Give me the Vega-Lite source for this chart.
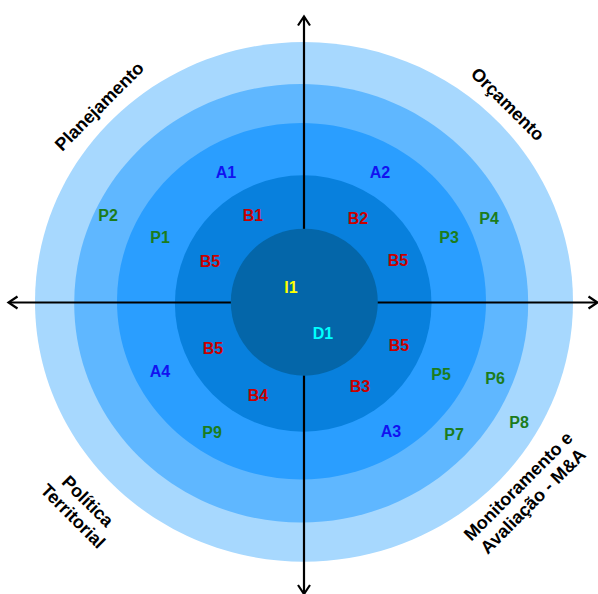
{
  "$schema": "https://vega.github.io/schema/vega-lite/v6.json",
  "width": 598,
  "height": 594,
  "autosize": {"type": "none"},
  "padding": 0,
  "background": "white",
  "config": {"view": {"stroke": null}},
  "datasets": {
    "rings": [
      {"ring": "1", "cx": 304, "cy": 301.8, "r": 269},
      {"ring": "2", "cx": 301.2, "cy": 303.3, "r": 227},
      {"ring": "3", "cx": 301.5, "cy": 301.2, "r": 184.5},
      {"ring": "4", "cx": 303.2, "cy": 303.5, "r": 128.3},
      {"ring": "5", "cx": 304.3, "cy": 302.2, "r": 73.5}
    ],
    "axes": [
      {"x": 9, "y": 302.5, "x2": 597, "y2": 302.5},
      {"x": 304, "y": 17, "x2": 304, "y2": 594}
    ],
    "tips": [
      {"dir": "up", "x": 304, "y": 16.5},
      {"dir": "down", "x": 304, "y": 594},
      {"dir": "left", "x": 8.5, "y": 302.5},
      {"dir": "right", "x": 597.5, "y": 302.5}
    ],
    "labels": [
      {"label": "A1", "group": "A", "x": 226, "y": 173},
      {"label": "A2", "group": "A", "x": 380, "y": 173},
      {"label": "A3", "group": "A", "x": 391, "y": 432},
      {"label": "A4", "group": "A", "x": 160, "y": 372},
      {"label": "B1", "group": "B", "x": 253, "y": 216},
      {"label": "B2", "group": "B", "x": 358, "y": 219},
      {"label": "B5", "group": "B", "x": 210, "y": 262},
      {"label": "B5", "group": "B", "x": 398, "y": 261},
      {"label": "B5", "group": "B", "x": 213, "y": 349},
      {"label": "B5", "group": "B", "x": 399, "y": 346},
      {"label": "B3", "group": "B", "x": 360, "y": 387},
      {"label": "B4", "group": "B", "x": 258, "y": 396},
      {"label": "I1", "group": "I", "x": 291, "y": 288},
      {"label": "D1", "group": "D", "x": 323, "y": 334},
      {"label": "P1", "group": "P", "x": 160, "y": 238},
      {"label": "P2", "group": "P", "x": 108, "y": 216},
      {"label": "P3", "group": "P", "x": 449, "y": 238},
      {"label": "P4", "group": "P", "x": 489, "y": 219},
      {"label": "P5", "group": "P", "x": 441, "y": 375},
      {"label": "P6", "group": "P", "x": 495, "y": 379},
      {"label": "P7", "group": "P", "x": 454, "y": 435},
      {"label": "P8", "group": "P", "x": 519, "y": 423},
      {"label": "P9", "group": "P", "x": 212, "y": 433}
    ],
    "corners": [
      {"title": "Planejamento", "quad": "NW", "x": 100, "y": 107},
      {"title": "Orçamento", "quad": "NE", "x": 507, "y": 105},
      {"title": "Política\nTerritorial", "quad": "SW", "x": 87, "y": 502},
      {"title": "Monitoramento e\nAvaliação - M&A", "quad": "SE", "x": 519, "y": 487}
    ]
  },
  "resolve": {"scale": {"color": "independent", "fill": "independent"}},
  "layer": [
    {
      "data": {"name": "rings"},
      "transform": [{"filter": "datum.ring <= '3'"}],
      "mark": {"type": "point", "filled": true, "opacity": 1, "strokeWidth": 0, "shape": "M-1,0A1,0.966 0 1 0 1,0A1,0.966 0 1 0 -1,0Z"},
      "encoding": {
        "x": {"field": "cx", "type": "quantitative", "scale": {"domain": [0, 598], "nice": false, "zero": false}, "axis": null},
        "y": {"field": "cy", "type": "quantitative", "scale": {"domain": [0, 594], "nice": false, "zero": false, "reverse": true}, "axis": null},
        "size": {"field": "r", "type": "quantitative", "scale": {"type": "pow", "exponent": 2, "domain": [0, 300], "range": [0, 360000]}, "legend": null},
        "fill": {"field": "ring", "type": "nominal", "scale": {"domain": ["1", "2", "3", "4", "5"], "range": ["#A7D8FE", "#5FB7FF", "#2A9EFF", "#0880DD", "#0466A9"]}, "legend": null}
      }
    },
    {
      "data": {"name": "rings"},
      "transform": [{"filter": "datum.ring == '4'"}],
      "mark": {"type": "point", "filled": true, "opacity": 1, "strokeWidth": 0, "shape": "circle"},
      "encoding": {
        "x": {"field": "cx", "type": "quantitative"},
        "y": {"field": "cy", "type": "quantitative"},
        "size": {"field": "r", "type": "quantitative", "scale": {"type": "pow", "exponent": 2, "domain": [0, 300], "range": [0, 360000]}, "legend": null},
        "fill": {"field": "ring", "type": "nominal", "scale": {"domain": ["1", "2", "3", "4", "5"], "range": ["#A7D8FE", "#5FB7FF", "#2A9EFF", "#0880DD", "#0466A9"]}, "legend": null}
      }
    },
    {
      "data": {"name": "axes"},
      "mark": {"type": "rule", "color": "#000000", "strokeWidth": 2.2},
      "encoding": {
        "x": {"field": "x", "type": "quantitative"},
        "y": {"field": "y", "type": "quantitative"},
        "x2": {"field": "x2"},
        "y2": {"field": "y2"}
      }
    },
    {
      "data": {"name": "rings"},
      "transform": [{"filter": "datum.ring == '5'"}],
      "mark": {"type": "point", "filled": true, "opacity": 1, "strokeWidth": 0, "shape": "circle"},
      "encoding": {
        "x": {"field": "cx", "type": "quantitative"},
        "y": {"field": "cy", "type": "quantitative"},
        "size": {"field": "r", "type": "quantitative", "scale": {"type": "pow", "exponent": 2, "domain": [0, 300], "range": [0, 360000]}, "legend": null},
        "fill": {"field": "ring", "type": "nominal", "scale": {"domain": ["1", "2", "3", "4", "5"], "range": ["#A7D8FE", "#5FB7FF", "#2A9EFF", "#0880DD", "#0466A9"]}, "legend": null}
      }
    },
    {
      "data": {"name": "tips"},
      "transform": [{"filter": "datum.dir == 'up'"}],
      "mark": {"type": "point", "filled": false, "opacity": 1, "stroke": "#000000", "strokeWidth": 2.2, "size": 144, "angle": 0, "shape": "M-1,1.5L0,0L1,1.5"},
      "encoding": {
        "x": {"field": "x", "type": "quantitative"},
        "y": {"field": "y", "type": "quantitative"}
      }
    },
    {
      "data": {"name": "tips"},
      "transform": [{"filter": "datum.dir == 'right'"}],
      "mark": {"type": "point", "filled": false, "opacity": 1, "stroke": "#000000", "strokeWidth": 2.2, "size": 144, "angle": 90, "shape": "M-1,1.5L0,0L1,1.5"},
      "encoding": {
        "x": {"field": "x", "type": "quantitative"},
        "y": {"field": "y", "type": "quantitative"}
      }
    },
    {
      "data": {"name": "tips"},
      "transform": [{"filter": "datum.dir == 'down'"}],
      "mark": {"type": "point", "filled": false, "opacity": 1, "stroke": "#000000", "strokeWidth": 2.2, "size": 144, "angle": 180, "shape": "M-1,1.5L0,0L1,1.5"},
      "encoding": {
        "x": {"field": "x", "type": "quantitative"},
        "y": {"field": "y", "type": "quantitative"}
      }
    },
    {
      "data": {"name": "tips"},
      "transform": [{"filter": "datum.dir == 'left'"}],
      "mark": {"type": "point", "filled": false, "opacity": 1, "stroke": "#000000", "strokeWidth": 2.2, "size": 144, "angle": 270, "shape": "M-1,1.5L0,0L1,1.5"},
      "encoding": {
        "x": {"field": "x", "type": "quantitative"},
        "y": {"field": "y", "type": "quantitative"}
      }
    },
    {
      "data": {"name": "labels"},
      "mark": {"type": "text", "font": "Liberation Sans", "fontWeight": "bold", "fontSize": 16},
      "encoding": {
        "x": {"field": "x", "type": "quantitative"},
        "y": {"field": "y", "type": "quantitative"},
        "text": {"field": "label"},
        "color": {"field": "group", "type": "nominal", "scale": {"domain": ["A", "B", "P", "I", "D"], "range": ["#1212F0", "#C80000", "#1C7C1C", "#FFFF00", "#00FFFF"]}, "legend": null}
      }
    },
    {
      "data": {"name": "corners"},
      "transform": [{"filter": "datum.quad == 'NW' || datum.quad == 'SE'"}],
      "mark": {"type": "text", "font": "Liberation Sans", "fontWeight": "bold", "fontSize": 18, "lineBreak": "\n", "lineHeight": 21, "color": "#000000", "angle": 315},
      "encoding": {
        "x": {"field": "x", "type": "quantitative"},
        "y": {"field": "y", "type": "quantitative"},
        "text": {"field": "title"}
      }
    },
    {
      "data": {"name": "corners"},
      "transform": [{"filter": "datum.quad == 'NE' || datum.quad == 'SW'"}],
      "mark": {"type": "text", "font": "Liberation Sans", "fontWeight": "bold", "fontSize": 18, "lineBreak": "\n", "lineHeight": 21, "color": "#000000", "angle": 45},
      "encoding": {
        "x": {"field": "x", "type": "quantitative"},
        "y": {"field": "y", "type": "quantitative"},
        "text": {"field": "title"}
      }
    }
  ]
}
